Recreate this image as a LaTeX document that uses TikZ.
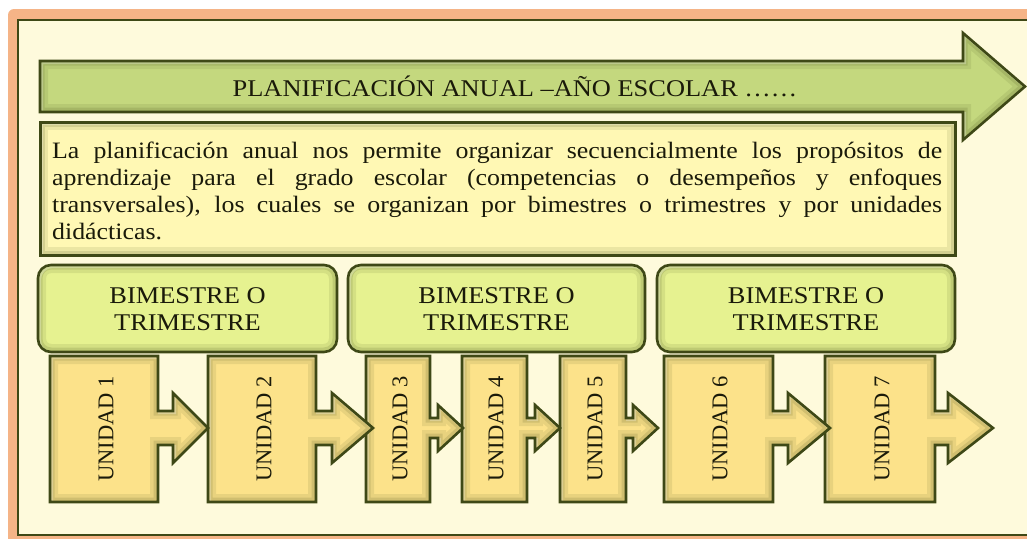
\documentclass[tikz,border=0pt]{standalone}
\usepackage{fontspec}
\setmainfont{Liberation Serif}
\newfontfamily\wideserif[FakeStretch=1.1]{Liberation Serif}
\definecolor{framebg}{HTML}{F5B487}
\definecolor{cream}{HTML}{FEFADC}
\definecolor{outline}{HTML}{3E4816}
\definecolor{titlegreen}{HTML}{C4D87E}
\definecolor{paper}{HTML}{FFF8B4}
\definecolor{bimfill}{HTML}{E6F290}
\definecolor{unitfill}{HTML}{FCE28A}
\definecolor{ink}{HTML}{1A1A0A}
% draws a filled shape with a soft inner bevel and a dark outline
\newcommand\bevelshape[3][2.6pt]{%
  \fill[#3] #2;
  \begin{scope}
    \clip #2;
    \draw[outline, opacity=0.10, line width=16pt] #2;
    \draw[outline, opacity=0.14, line width=9pt] #2;
    \draw[white, opacity=0.25, line width=3pt, shift={(1.5,1.5)}] #2;
  \end{scope}
  \draw[draw=outline, line width=#1, line join=miter] #2;}
\newcommand\unitshape[6]{%
  \bevelshape{(#1,356) -- (#2,356) -- (#2,428-#5) -- (#3,428-#5) -- (#3,428-#6) -- (#4,428) -- (#3,428+#6) -- (#3,428+#5) -- (#2,428+#5) -- (#2,502) -- (#1,502) -- cycle}{unitfill}}
\newcommand\bimshape[2]{%
  \bevelshape{[rounded corners=13pt] (#1,265) rectangle (#2,352)}{bimfill}}
\begin{document}
\begin{tikzpicture}[x=1pt,y=-1pt,
  bimtext/.style={font=\wideserif\fontsize{24}{27}\selectfont, align=center, inner sep=0pt, text=ink},
  unittext/.style={font=\fontsize{22.5}{24}\selectfont, rotate=90, inner sep=0pt, text=ink}]
\useasboundingbox (0,0) rectangle (1027,538);
\clip (0,0) rectangle (1027,538);
\fill[white] (0,0) rectangle (1027,538);
\fill[framebg, rounded corners=6pt] (8,9) rectangle (1080,580);
\draw[draw=outline, line width=2pt, fill=cream] (17.5,19.5) rectangle (1080,535);
% title arrow
\bevelshape{(40,61) -- (963,61) -- (963,33) -- (1025,86.5) -- (963,140) -- (963,112) -- (40,112) -- cycle}{titlegreen}
\node[anchor=base, inner sep=0pt, text=ink, font=\wideserif\fontsize{24}{27}\selectfont] (title) at (515,96) {PLANIFICACIÓN ANUAL –AÑO ESCOLAR ……};
% description
\bevelshape[3pt]{(40,122) rectangle (955,255)}{paper}
\node[anchor=north west, text width=890pt, inner sep=0pt, align=justify, text=ink,
      font=\wideserif\fontsize{23.5}{27}\selectfont] (desc) at (52,142)
  {\hyphenpenalty=10000 La planificación anual nos permite organizar secuencialmente los propósitos de\linebreak
   aprendizaje para el grado escolar (competencias o desempeños y enfoques\linebreak
   transversales), los cuales se organizan por bimestres o trimestres y por unidades\linebreak
   didácticas.};
% bimestre boxes
\bimshape{38}{337}
\bimshape{348}{645}
\bimshape{657}{955}
\node[bimtext] (b1) at (187.5,309.5) {BIMESTRE O\\TRIMESTRE};
\node[bimtext] (b2) at (496.5,309.5) {BIMESTRE O\\TRIMESTRE};
\node[bimtext] (b3) at (806,309.5) {BIMESTRE O\\TRIMESTRE};
% units (drawn right to left so each arrow tip lies over the next box)
\unitshape{825}{935}{948}{993}{17}{35}
\unitshape{664}{773}{788}{830}{17}{35}
\unitshape{560}{626}{633}{658}{10}{23}
\unitshape{462}{527}{535}{560}{10}{23}
\unitshape{366}{430}{438}{463}{10}{23}
\unitshape{208}{316}{332}{373}{17}{35}
\unitshape{50}{158}{173}{208}{17}{35}
\node[unittext] (u1) at (106,429) {UNIDAD 1};
\node[unittext] (u2) at (264,429) {UNIDAD 2};
\node[unittext] (u3) at (400,429) {UNIDAD 3};
\node[unittext] (u4) at (496,429) {UNIDAD 4};
\node[unittext] (u5) at (595,429) {UNIDAD 5};
\node[unittext] (u6) at (720,429) {UNIDAD 6};
\node[unittext] (u7) at (882,429) {UNIDAD 7};
\end{tikzpicture}
\end{document}
